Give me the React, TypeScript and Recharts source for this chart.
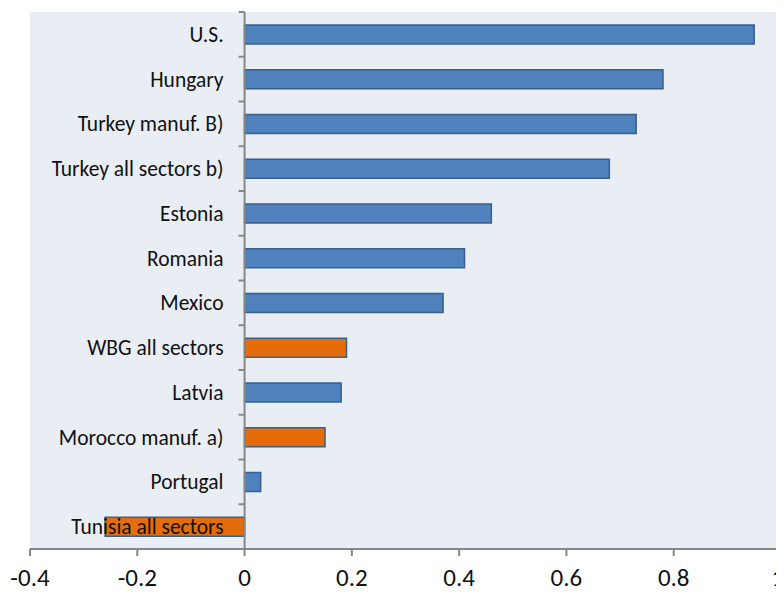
import React from 'react'
import { BarChart, Bar, XAxis, YAxis, CartesianGrid, ReferenceLine, Cell, usePlotArea } from 'recharts'

const countries = [
  'U.S.',
  'Hungary',
  'Turkey manuf. B)',
  'Turkey all sectors b)',
  'Estonia',
  'Romania',
  'Mexico',
  'WBG all sectors',
  'Latvia',
  'Morocco manuf. a)',
  'Portugal',
  'Tunisia all sectors',
]
const values = [0.95, 0.78, 0.73, 0.68, 0.46, 0.41, 0.37, 0.19, 0.18, 0.15, 0.03, -0.26]
const highlighted = [false, false, false, false, false, false, false, true, false, true, false, true]
const xTicks = [-0.4, -0.2, 0, 0.2, 0.4, 0.6, 0.8, 1]

const X_MIN = -0.4
const X_MAX = 1
const FONT = 'Carlito, Calibri, Lato, sans-serif'
const AXIS_GREY = '#878787'

const data = countries.map((name, i) => ({ name, value: values[i], orange: highlighted[i] }))

// category labels sit just left of the zero line, with a small tick at the top of each band
const CategoryTick = (props: any) => {
  const plot = usePlotArea()
  const { y, payload } = props
  if (!plot) return null
  const zeroX = plot.x + (plot.width * (0 - X_MIN)) / (X_MAX - X_MIN)
  const half = payload?.offset || plot.height / countries.length / 2
  return (
    <g>
      <line x1={zeroX - 6} x2={zeroX} y1={y - half} y2={y - half} stroke={AXIS_GREY} strokeWidth={2} />
      <text x={zeroX - 21} y={y} dy="0.35em" textAnchor="end" fontSize={21.5} fontFamily={FONT} fill="#111">
        {payload.value}
      </text>
    </g>
  )
}

export default function App() {
  return (
    <BarChart
      width={776}
      height={585}
      data={data}
      layout="vertical"
      margin={{ top: 4, right: 3, bottom: 4, left: 21 }}
    >
      <CartesianGrid horizontal={false} vertical={false} fill="#E9EDF4" fillOpacity={1} />
      <XAxis
        type="number"
        domain={[X_MIN, X_MAX]}
        ticks={xTicks}
        allowDataOverflow
        height={40}
        tickSize={7}
        tickMargin={12}
        tickFormatter={(v: number) => String(Math.round(v * 10) / 10)}
        axisLine={{ stroke: AXIS_GREY, strokeWidth: 2 }}
        tickLine={{ stroke: AXIS_GREY, strokeWidth: 2 }}
        tick={{ fontSize: 25, fontFamily: FONT, fill: '#111' }}
      />
      <Bar dataKey="value" barSize={19} stroke="#3A5F8B" strokeWidth={1.5} isAnimationActive={false}>
        {data.map((d) => (
          <Cell key={d.name} fill={d.orange ? '#E46C0A' : '#4F81BD'} />
        ))}
      </Bar>
      <ReferenceLine x={0} stroke={AXIS_GREY} strokeWidth={2} />
      <YAxis type="category" dataKey="name" width={1} axisLine={false} tickLine={false} tick={<CategoryTick />} />
    </BarChart>
  )
}
